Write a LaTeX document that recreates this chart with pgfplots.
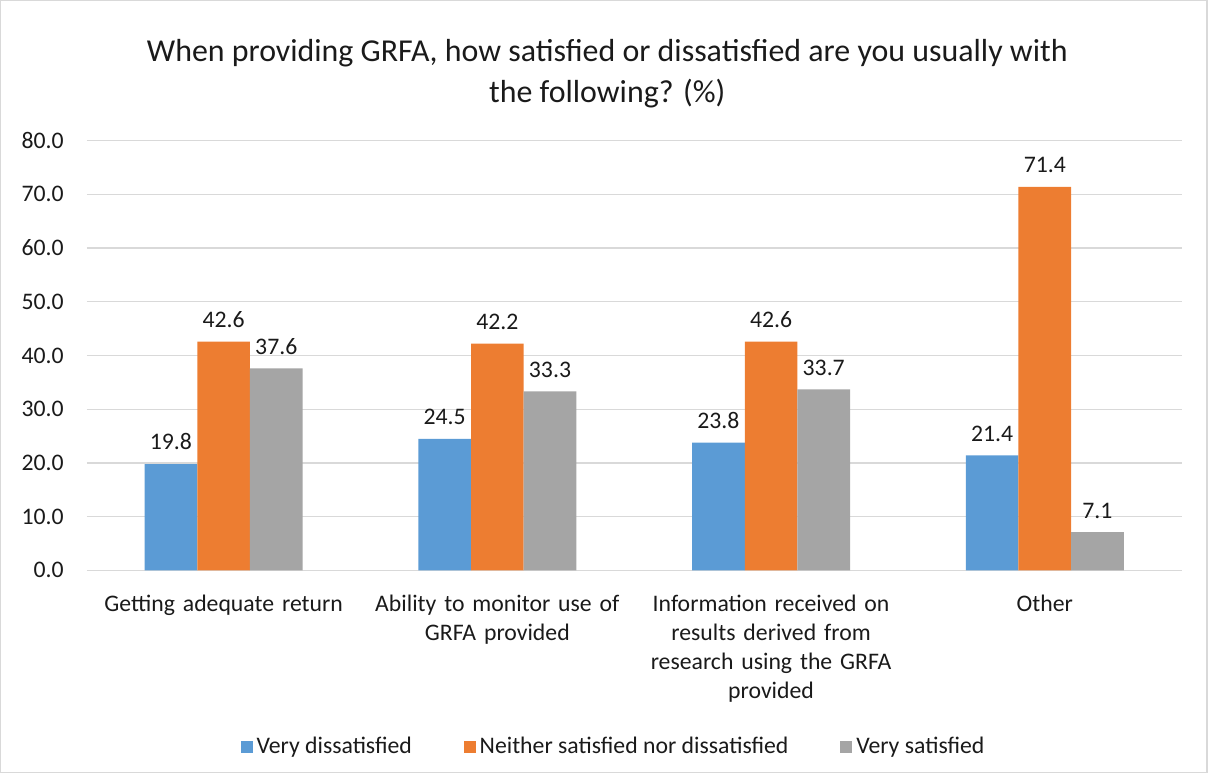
\documentclass[border=0pt]{standalone}
\usepackage{pgfplots}
\pgfplotsset{compat=1.18}
\usepackage{fontspec}
\setmainfont{Carlito}
\definecolor{cblue}{HTML}{5B9BD5}
\definecolor{corange}{HTML}{ED7D31}
\definecolor{cgray}{HTML}{A5A5A5}
\definecolor{gridc}{HTML}{D9D9D9}
\definecolor{txt}{HTML}{1A1A1A}
\begin{document}
\begin{tikzpicture}
\draw[gridc, line width=0.6pt] (0.3pt,0.3pt) rectangle (605.2pt,387.2pt);
\node[align=center, font=\fontsize{16}{20.5}\selectfont, text=txt] at (304.5pt,350.5pt) {When providing GRFA, how satisfied or dissatisfied are you usually with\\the following? (\%)};
\begin{axis}[at={(43.5pt,101.5pt)}, anchor=south west, scale only axis,
  width=549pt, height=215.5pt,
  ybar=0pt, bar width=26.4pt,
  xmin=-0.5, xmax=3.5, ymin=0, ymax=80, ytick={0,10,...,80},
  xtick={0,1,2,3},
  xticklabels={{Getting adequate return},{Ability to monitor use of\\GRFA provided},{Information received on\\results derived from\\research using the GRFA\\provided},{Other}},
  axis line style={draw=none},
  major tick length=0pt,
  ymajorgrids, grid style={gridc, line width=0.6pt},
  /pgf/number format/assume math mode=true,
  /pgf/number format/.cd, fixed, fixed zerofill, precision=1, /pgfplots/.cd,
  yticklabel style={font=\fontsize{11.9}{13}\selectfont, text=txt, xshift=-8pt},
  xticklabel style={font=\fontsize{11.9}{14.4}\selectfont, text=txt, align=center, text width=160pt, yshift=-9pt},
  nodes near coords,
  nodes near coords style={font=\fontsize{11.9}{13}\selectfont, text=txt, /pgf/number format/fixed, /pgf/number format/fixed zerofill, /pgf/number format/precision=1, yshift=3.5pt},
  legend columns=3,
  legend style={at={(0.482,-0.41)}, anchor=center, draw=none, font=\fontsize{11.9}{13}\selectfont, text=txt,
    /tikz/every even column/.append style={column sep=24pt}},
  legend image code/.code={\fill[#1] (0pt,-3pt) rectangle (6pt,3pt);},
]
\addplot[fill=cblue, draw=none] coordinates {(0,19.8) (1,24.5) (2,23.8) (3,21.4)};
\addplot[fill=corange, draw=none] coordinates {(0,42.6) (1,42.2) (2,42.6) (3,71.4)};
\addplot[fill=cgray, draw=none] coordinates {(0,37.6) (1,33.3) (2,33.7) (3,7.1)};
\legend{Very dissatisfied, Neither satisfied nor dissatisfied, Very satisfied}
\end{axis}
\end{tikzpicture}
\end{document}
